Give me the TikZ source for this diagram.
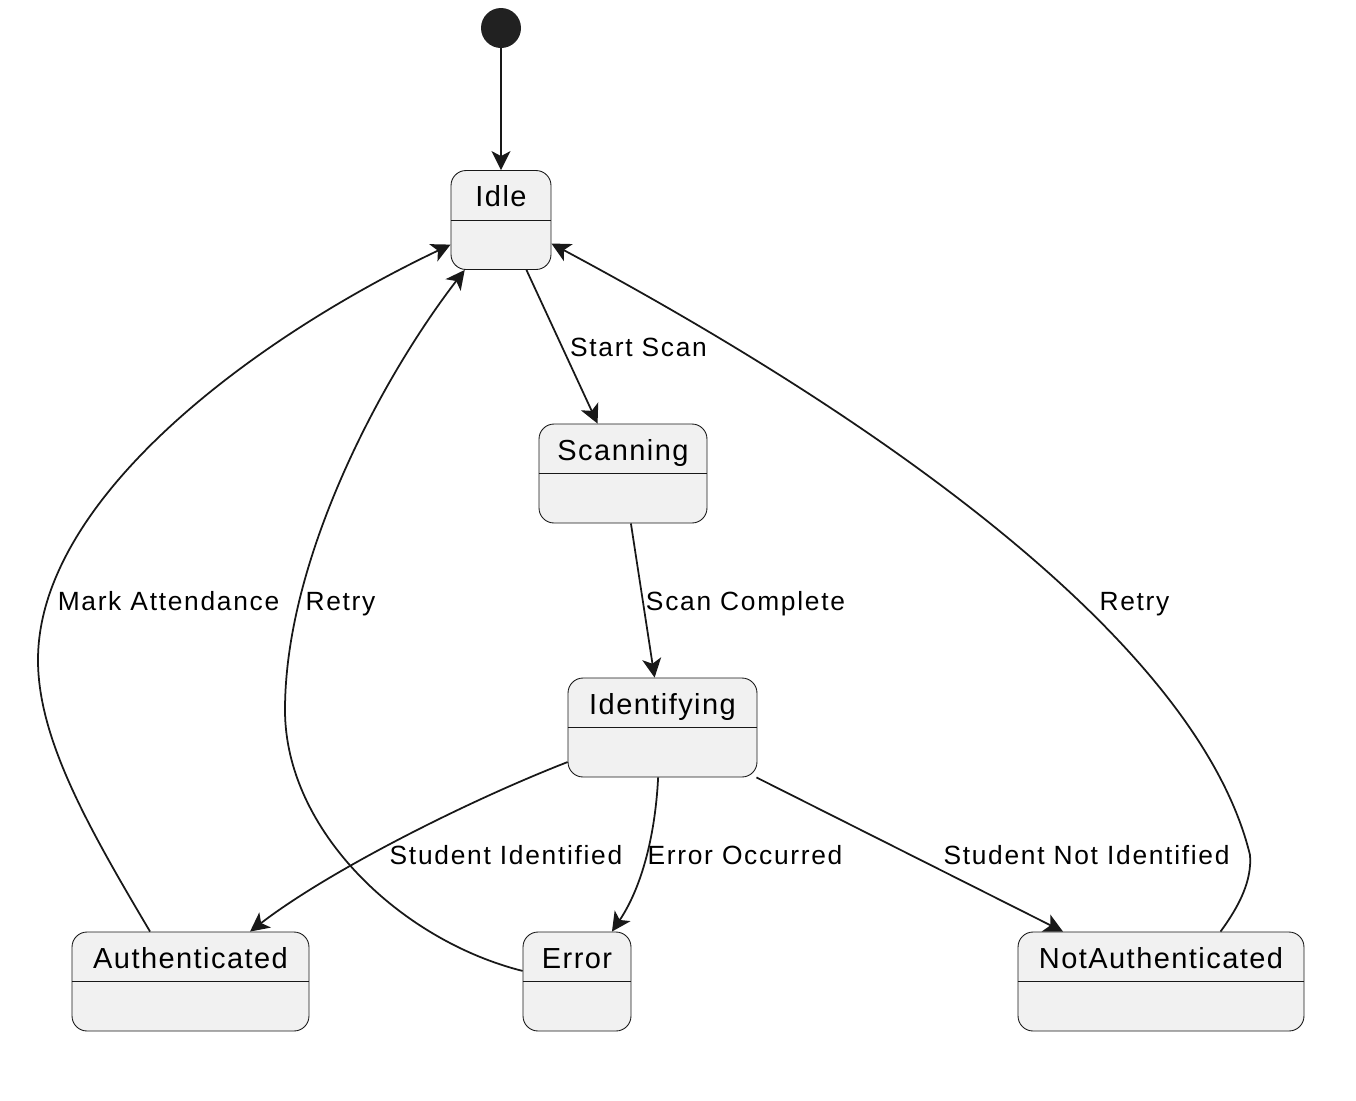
\documentclass[tikz,border=0pt]{standalone}
\usepackage{fontspec}
\setmainfont{Liberation Sans}[LetterSpace=5]
\usetikzlibrary{arrows.meta, positioning, calc}
\definecolor{stfill}{HTML}{F1F1F1}
\definecolor{stline}{HTML}{181818}

\begin{document}
\begin{tikzpicture}[
    x=0.02cm, y=-0.02cm,
    state/.style={draw=stline, line width=0.5pt, fill=stfill, rounded corners=0.3cm,
      inner sep=0pt, minimum height=1.98cm, text height=0.72cm, text depth=1.26cm,
      font=\fontsize{16.5}{18}\selectfont},
    lbl/.style={inner sep=0pt, anchor=base, font=\fontsize{15}{17}\selectfont\addfontfeature{LetterSpace=6.5}},
    tr/.style={draw=stline, line width=1pt,
      -{Stealth[length=0.38cm, width=0.38cm, inset=0.1cm]}}
  ]
  \useasboundingbox (0,0) rectangle (1356,1100);

  % states
  \node[circle, fill=black!87, minimum size=0.8cm, inner sep=0pt] (start) at (501,28) {};
  \node[state, minimum width=2cm] (idle) at (501,220) {Idle};
  \node[state, minimum width=3.36cm] (scanning) at (623,473.5) {Scanning};
  \node[state, minimum width=3.78cm] (identifying) at (662.5,727.5) {Identifying};
  \node[state, minimum width=4.74cm] (authenticated) at (190.5,981.5) {Authenticated};
  \node[state, minimum width=2.16cm] (error) at (577,981.5) {Error};
  \node[state, minimum width=5.72cm] (notauth) at (1161,981.5) {NotAuthenticated};
  \foreach \s in {idle, scanning, identifying, authenticated, error, notauth}
    \draw[stline, line width=0.5pt] (\s.west) -- (\s.east);

  % transitions
  \draw[tr] (start) -- (idle);
  \draw[tr] (idle.-63) -- (scanning.117);
  \draw[tr] (scanning.-81) -- (identifying.99);
  \draw[tr] (identifying.200) .. controls (470,800) and (330,870) .. (authenticated.40);
  \draw[tr] (identifying.265) .. controls (655,840) and (640,890) .. (error.55);
  \draw[tr] (identifying.-28) -- (notauth.153);
  \draw[tr] (authenticated.129) .. controls (90,830) and (38,740) .. (38,660)
    .. controls (38,500) and (250,340) .. (idle.206);
  \draw[tr] (error.169) .. controls (400,940) and (285,830) .. (285,710)
    .. controls (285,560) and (380,380) .. (idle.234);
  \draw[tr] (notauth.40) .. controls (1240,905) and (1252,880) .. (1250,855)
    .. controls (1200,650) and (900,430) .. (idle.-25);

  % labels
  \node[lbl] (lstart) at (638.5,356.5) {Start Scan};
  \node[lbl] (lcomplete) at (745.5,610) {Scan Complete};
  \node[lbl] (lmark) at (168.5,610) {Mark Attendance};
  \node[lbl] (lretry) at (340.5,610) {Retry};
  \node[lbl] (lretrynot) at (1134.5,610) {Retry};
  \node[lbl] (lident) at (506,864) {Student Identified};
  \node[lbl] (lerror) at (745,864) {Error Occurred};
  \node[lbl] (lnotident) at (1086.5,864) {Student Not Identified};
\end{tikzpicture}
\end{document}
